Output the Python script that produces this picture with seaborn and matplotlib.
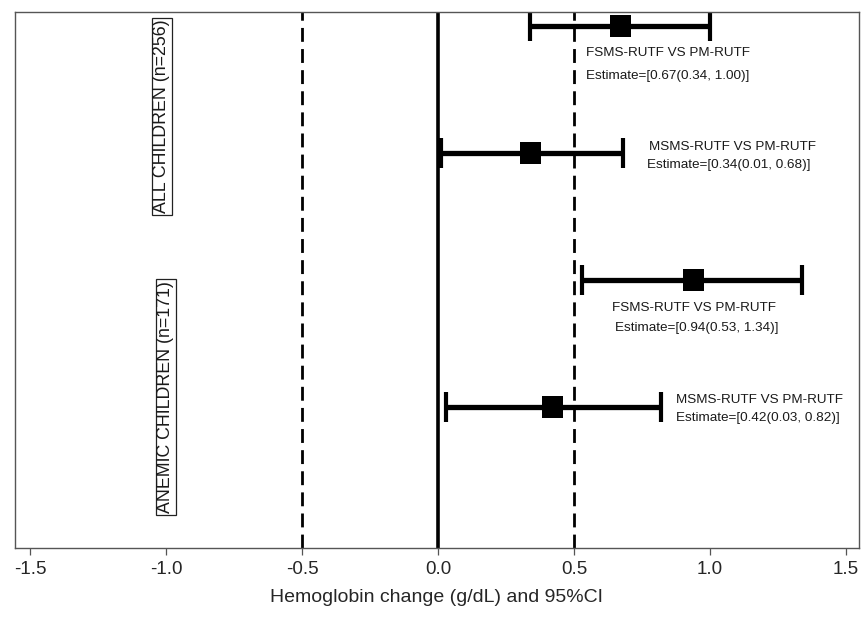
import matplotlib
matplotlib.use("Agg")
import matplotlib.pyplot as plt
import seaborn as sns
import pandas as pd

# ---- data ----
comparisons = ["FSMS-RUTF VS PM-RUTF", "MSMS-RUTF VS PM-RUTF",
               "FSMS-RUTF VS PM-RUTF", "MSMS-RUTF VS PM-RUTF"]
groups = ["ALL CHILDREN (n=256)", "ANEMIC CHILDREN (n=171)"]
estimate = [0.67, 0.34, 0.94, 0.42]
lower = [0.34, 0.01, 0.53, 0.03]
upper = [1.00, 0.68, 1.34, 0.82]
rows = [1, 2, 3, 4]
xticks = [-1.5, -1.0, -0.5, 0.0, 0.5, 1.0, 1.5]
ref_dashed = [-0.5, 0.5]
ref_solid = [0.0]

df = pd.DataFrame({"comparison": comparisons, "estimate": estimate,
                   "lower": lower, "upper": upper, "row": rows})

# ---- layout (text placement) ----
text_x = [0.544, 0.776, 0.64, 0.875]
text_x2 = [0.544, 0.770, 0.65, 0.874]
text_y1 = [1.213, 1.953, 3.22, 3.945]
text_y2 = [1.394, 2.094, 3.378, 4.087]
group_x = [-1.015, -1.0]
group_y = [1.71, 3.92]

sns.set_style("white")
plt.rcParams["font.family"] = ["Liberation Sans", "DejaVu Sans"]

fig = plt.figure(figsize=(8.66, 6.26), dpi=100)
ax = fig.add_axes([15 / 866, 78 / 626, 844 / 866, 536 / 626])

for x in ref_dashed:
    ax.axvline(x, color="black", lw=2.0, ls=(0, (5, 2.6)), zorder=1)
for x in ref_solid:
    ax.axvline(x, color="black", lw=2.6, zorder=1)

eb = ax.errorbar(df["estimate"], df["row"],
                 xerr=[df["estimate"] - df["lower"], df["upper"] - df["estimate"]],
                 fmt="none", ecolor="black", elinewidth=3.8, capsize=11,
                 capthick=3.0, zorder=2)
for cap in eb[1]:
    cap.set_solid_capstyle("round")
sns.scatterplot(data=df, x="estimate", y="row", marker="s", s=230,
                color="black", edgecolor="none", ax=ax, zorder=3, legend=False)

for i in range(len(df)):
    ax.text(text_x[i], text_y1[i], df["comparison"][i], fontsize=9.7,
            ha="left", va="center", color="#1a1a1a")
    ax.text(text_x2[i], text_y2[i],
            f"Estimate=[{estimate[i]:.2f}({lower[i]:.2f}, {upper[i]:.2f})]",
            fontsize=9.7, ha="left", va="center", color="#1a1a1a")

for g, gx, gy in zip(groups, group_x, group_y):
    ax.text(gx, gy, g, rotation=90, fontsize=12.8, ha="center", va="center",
            color="#1a1a1a",
            bbox=dict(boxstyle="square,pad=0.1", fc="white", ec="#222222", lw=0.9))

ax.set_xlim(-1.555, 1.548)
ax.set_ylim(5.11, 0.89)
ax.set_xticks(xticks)
ax.set_xticklabels([f"{t:.1f}" for t in xticks], fontsize=13.5)
ax.set_yticks([])
ax.set_ylabel("")
ax.set_xlabel("Hemoglobin change (g/dL) and 95%CI", fontsize=14, labelpad=8)
ax.tick_params(axis="x", direction="out", length=5, width=0.9, color="#555555",
               bottom=True, pad=4)
for s in ax.spines.values():
    s.set_color("#555555")
    s.set_linewidth(1.0)

fig.savefig("out.png", dpi=100)
